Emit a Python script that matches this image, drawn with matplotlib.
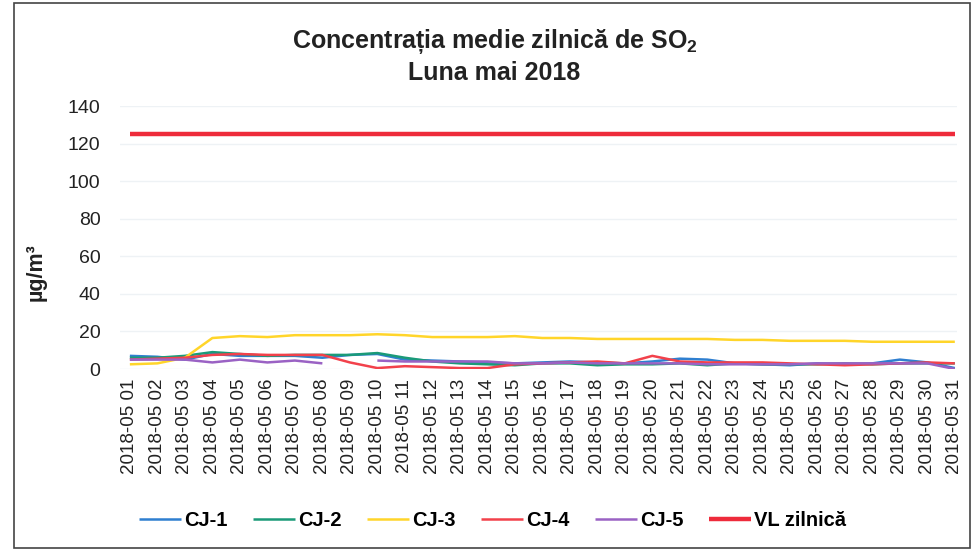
import numpy as np
import matplotlib
matplotlib.use("Agg")
import matplotlib.pyplot as plt
from matplotlib.patches import Rectangle

plt.rcParams["font.family"] = ["Liberation Sans", "DejaVu Sans"]
plt.rcParams["mathtext.fontset"] = "custom"
plt.rcParams["mathtext.rm"] = "Liberation Sans"
plt.rcParams["mathtext.bf"] = "Liberation Sans:bold"

# Days of May 2018
days = [f"2018-05 {d:02d}" for d in range(1, 32)]

# Daily mean SO2 concentrations (ug/m3)
cj1 = [7, 6.5, 5, 8, 7, 7, 7, 6, 7.5, 8, 5, 4.5, 4, 3.5, 3, 3.5, 4, 3.5, 3, 4,
       5.5, 5, 3, 2.5, 2, 3, 2.5, 3, 5, 3.5, 0.5]
cj2 = [6, 6, 7, 9, 8, 7, 7.5, 7.5, 7.5, 8.5, 6, 4, 3, 2.5, 2, 3, 3, 2, 2.5, 2.5,
       3, 2, 3, 2.5, 2.5, 2.5, 3, 2.5, 3, 3, 3]
cj3 = [2.5, 3, 6, 16.5, 17.5, 17, 18, 18, 18, 18.5, 18, 17, 17, 17, 17.5, 16.5,
       16.5, 16, 16, 16, 16, 16, 15.5, 15.5, 15, 15, 15, 14.5, 14.5, 14.5, 14.5]
cj4 = [5, 5.5, 6, 7.5, 8, 7.5, 7.5, 7.5, 3.5, 0.5, 1.5, 1, 0.5, 0.5, 2.5, 3, 3.5,
       4, 3, 7, 4, 3.5, 3.5, 3.5, 3, 2.5, 2, 2.5, 3, 3.5, 3]
cj5 = [5, 5, 5, 3.5, 5, 3.5, 4.5, 3, np.nan, 4.5, 4, 4, 4, 4, 3, 3, 3.5, 3, 3,
       3, 3, 2.5, 2.5, 2.5, 2.5, 3, 3, 3, 3, 3, 0]
vl = [125] * 31

series = [
    ("CJ-1", cj1, "#2f7fd0", 1.8),
    ("CJ-2", cj2, "#1a9a78", 1.8),
    ("CJ-3", cj3, "#ffd52a", 1.8),
    ("CJ-4", cj4, "#f2414b", 1.8),
    ("CJ-5", cj5, "#9a62c4", 1.8),
    ("VL zilnică", vl, "#ee2b3b", 3.2),
]

fig = plt.figure(figsize=(9.73, 5.51), dpi=100)
ax = fig.add_axes([0.1233, 0.3303, 0.860, 0.4773])

x = np.arange(len(days))
for name, vals, color, lw in series:
    ax.plot(x, vals, color=color, lw=lw, label=name, solid_capstyle="butt")

ax.set_xlim(-0.36, 30.07)
ax.set_ylim(0, 140)
ax.set_yticks(np.arange(0, 141, 20))
ax.set_xticks(x)
ax.set_xticklabels(days, rotation=90, fontsize=13.5, color="#222222")
ax.tick_params(axis="y", labelsize=14, colors="#222222", length=0, pad=14)
ax.tick_params(axis="x", length=0, pad=7)
ax.grid(axis="y", color="#eef2f5", lw=1)
for sp in ax.spines.values():
    sp.set_visible(False)

ax.set_ylabel("µg/m³", fontsize=15.5, fontweight="bold", color="#222222")
ax.yaxis.set_label_coords(-0.088, 0.37)

fig.text(0.509, 0.924, r"Concentrația medie zilnică de SO$_\mathbf{2}$",
         ha="center", va="center", fontsize=18, fontweight="bold", color="#222222")
fig.text(0.508, 0.868, "Luna mai 2018", ha="center", va="center",
         fontsize=18, fontweight="bold", color="#222222")

fig.legend(loc="center", bbox_to_anchor=(0.506, 0.056), ncol=6, frameon=False,
           prop={"weight": "bold", "size": 14.5}, handlelength=2.1,
           handletextpad=0.15, columnspacing=1.25)

fig.patches.append(Rectangle((14 / 973, 1 - 548 / 551), 956 / 973, 545 / 551,
                             transform=fig.transFigure, fill=False,
                             edgecolor="#444444", lw=1.2))

fig.savefig("out.png", dpi=100)
